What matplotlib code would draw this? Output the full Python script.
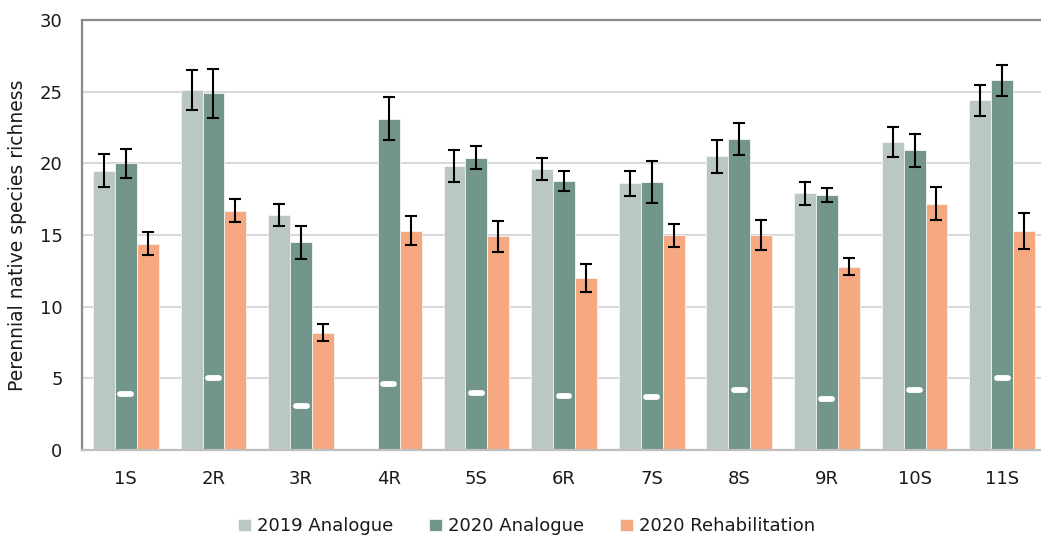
import numpy as np
import matplotlib
matplotlib.use("Agg")
import matplotlib.pyplot as plt

# Sites and series
sites = ["1S", "2R", "3R", "4R", "5S", "6R", "7S", "8S", "9R", "10S", "11S"]
series_names = ["2019 Analogue", "2020 Analogue", "2020 Rehabilitation"]

analogue_2019 = [19.5, 25.1, 16.4, np.nan, 19.8, 19.6, 18.6, 20.5, 17.9, 21.5, 24.4]
analogue_2019_err = [1.15, 1.4, 0.8, np.nan, 1.1, 0.75, 0.9, 1.15, 0.8, 1.05, 1.1]

analogue_2020 = [20.0, 24.9, 14.5, 23.1, 20.4, 18.8, 18.7, 21.7, 17.8, 20.9, 25.8]
analogue_2020_err = [1.0, 1.7, 1.15, 1.5, 0.8, 0.7, 1.45, 1.15, 0.5, 1.13, 1.07]

rehab_2020 = [14.4, 16.7, 8.2, 15.3, 14.9, 12.0, 15.0, 15.0, 12.8, 17.2, 15.3]
rehab_2020_err = [0.8, 0.8, 0.6, 1.0, 1.05, 0.97, 0.8, 1.05, 0.6, 1.15, 1.27]

# Reference richness for each site (white dash)
reference = [3.9, 5.0, 3.1, 4.6, 4.0, 3.8, 3.7, 4.2, 3.6, 4.2, 5.0]

colors = ["#BAC8C1", "#72968C", "#F6A880"]
text_color = "#1a1a1a"

fig = plt.figure(figsize=(10.41, 5.41), dpi=100)
ax = fig.add_axes([0.0788, 0.168, 0.926, 0.795])

x = np.arange(len(sites))
width = 0.25
values = [analogue_2019, analogue_2020, rehab_2020]
errors = [analogue_2019_err, analogue_2020_err, rehab_2020_err]

for i, (vals, errs, col, name) in enumerate(zip(values, errors, colors, series_names)):
    pos = x + (i - 1) * width
    ax.bar(pos, vals, width=width, color=col, edgecolor="#f4f4f4",
           linewidth=0.6, label=name, zorder=2)
    ax.errorbar(pos, vals, yerr=errs, fmt="none", ecolor="black",
                elinewidth=1.5, capsize=4.3, capthick=1.5, zorder=3)

ax.hlines(reference, x - 0.062, x + 0.062, colors="white", linewidth=4.2,
          capstyle="round", zorder=4)

ax.set_xlim(-0.5, len(sites) - 0.5)
ax.set_ylim(0, 30)
ax.set_yticks(range(0, 31, 5))
ax.set_xticks(x)
ax.set_xticklabels(sites)
ax.yaxis.grid(True, color="#D9D9D9", linewidth=1.5, zorder=0)
ax.set_axisbelow(True)

ax.tick_params(axis="both", length=0, labelsize=13, colors=text_color)
ax.tick_params(axis="y", pad=14)
ax.tick_params(axis="x", pad=14)

for side in ["left", "top"]:
    ax.spines[side].set_color("#8A8A8A")
    ax.spines[side].set_linewidth(1.6)
ax.spines["bottom"].set_color("#BFBFBF")
ax.spines["bottom"].set_linewidth(1.6)
ax.spines["right"].set_visible(False)

ax.set_ylabel("Perennial native species richness", fontsize=13.5, color=text_color,
              labelpad=9)

fig.legend(loc="center", bbox_to_anchor=(0.506, 0.027), ncol=3, frameon=False,
           fontsize=13, handlelength=0.7, handleheight=0.7, handletextpad=0.35,
           columnspacing=2.0, labelcolor=text_color)

fig.savefig("out.png", dpi=100)
